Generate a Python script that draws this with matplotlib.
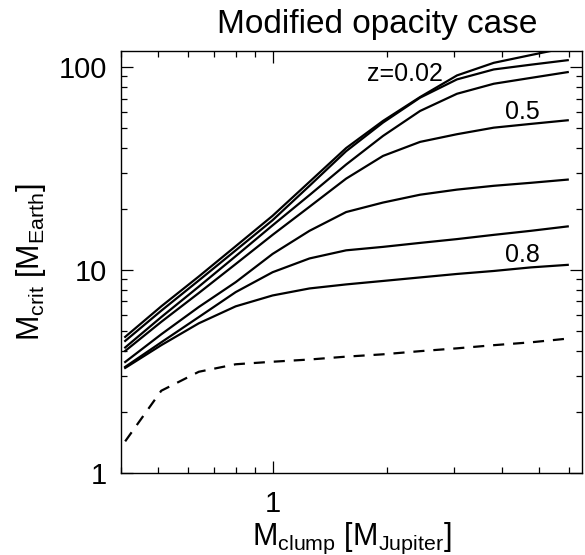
import matplotlib
matplotlib.use('Agg')
import matplotlib.pyplot as plt
from matplotlib.ticker import LogLocator, NullFormatter, FuncFormatter

plt.rcParams['font.family'] = ['Liberation Sans', 'DejaVu Sans']
plt.rcParams['mathtext.fontset'] = 'custom'
plt.rcParams['mathtext.rm'] = 'Liberation Sans'
plt.rcParams['mathtext.it'] = 'Liberation Sans'

# clump masses [M_Jupiter]
m_clump = [0.41, 0.51, 0.64, 0.80, 1.0, 1.25, 1.56, 1.95, 2.44, 3.05, 3.81, 4.77, 5.96]

# critical core masses [M_Earth], one list per metallicity (top to bottom)
z_002 = [4.68, 6.62, 9.29, 13.1, 18.5, 27.2, 39.9, 54.3, 71.2, 91.0, 105.0, 114.7, 125.0]
z_b = [4.47, 6.30, 8.88, 12.5, 17.6, 26.0, 38.5, 53.3, 70.7, 87.0, 97.4, 102.8, 108.2]
z_c = [4.15, 5.86, 8.28, 11.7, 16.6, 23.4, 33.1, 45.8, 60.8, 73.9, 82.8, 88.5, 94.5]
z_05 = [3.99, 5.55, 7.70, 10.7, 14.9, 20.5, 28.2, 36.5, 42.8, 46.7, 50.3, 52.5, 54.7]
z_e = [3.52, 4.82, 6.57, 8.71, 12.0, 15.6, 19.3, 21.5, 23.5, 24.9, 26.0, 26.9, 27.9]
z_f = [3.33, 4.40, 5.86, 7.78, 9.75, 11.4, 12.5, 13.0, 13.6, 14.2, 14.9, 15.6, 16.4]
z_08 = [3.29, 4.26, 5.46, 6.62, 7.49, 8.11, 8.49, 8.83, 9.19, 9.56, 9.89, 10.3, 10.6]
solid_curves = [z_002, z_b, z_c, z_05, z_e, z_f, z_08]

# dashed reference curve
dashed = [1.43, 2.54, 3.15, 3.43, 3.53, 3.62, 3.74, 3.84, 3.98, 4.11, 4.26, 4.40, 4.59]

fig = plt.figure(figsize=(5.85, 5.55), dpi=100)
ax = fig.add_axes([0.207, 0.148, 0.788, 0.760])

for curve in solid_curves:
    ax.plot(m_clump, curve, color='black', lw=1.6, solid_joinstyle='miter')
ax.plot(m_clump, dashed, color='black', lw=1.6, dashes=(5, 4))

ax.set_xscale('log')
ax.set_yscale('log')
ax.set_xlim(0.4, 6.5)
ax.set_ylim(1, 120)

ax.xaxis.set_major_locator(LogLocator(base=10, numticks=10))
ax.xaxis.set_minor_locator(LogLocator(base=10, subs=range(2, 10), numticks=20))
ax.yaxis.set_major_locator(LogLocator(base=10, numticks=10))
ax.yaxis.set_minor_locator(LogLocator(base=10, subs=range(2, 10), numticks=20))
plain = FuncFormatter(lambda v, p: '%g' % v)
ax.xaxis.set_major_formatter(plain)
ax.yaxis.set_major_formatter(plain)
ax.xaxis.set_minor_formatter(NullFormatter())
ax.yaxis.set_minor_formatter(NullFormatter())

ax.tick_params(which='both', direction='in', top=True, right=True, width=0.9, colors='black')
ax.tick_params(which='major', length=8.5, labelsize=21)
ax.tick_params(which='minor', length=4.5)
ax.tick_params(axis='x', which='major', pad=12)
ax.tick_params(axis='y', which='major', pad=10)
for s in ax.spines.values():
    s.set_linewidth(1.0)

ax.text(2.23, 93, 'z=0.02', fontsize=18, ha='center', va='center')
ax.text(4.54, 60, '0.5', fontsize=18, ha='center', va='center')
ax.text(4.54, 11.9, '0.8', fontsize=18, ha='center', va='center')

ax.set_xlabel(r'M$_{\rm clump}$ [M$_{\rm Jupiter}$]', fontsize=22, labelpad=2)
ax.set_ylabel(r'M$_{\rm crit}$ [M$_{\rm Earth}$]', fontsize=22, labelpad=8)
fig.text(0.645, 0.955, 'Modified opacity case', fontsize=24, ha='center', va='center')

fig.savefig('out.png', dpi=100)
